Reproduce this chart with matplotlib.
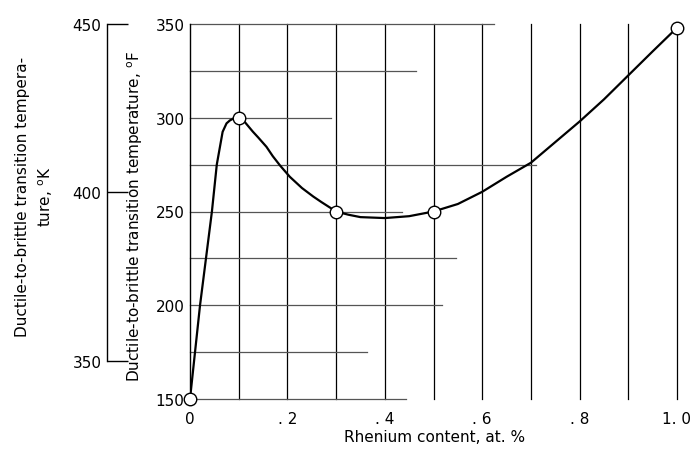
"""
Ductile-to-brittle transition temperature vs rhenium content.
Writes out.png (690x456).
"""

import matplotlib
matplotlib.use("Agg")
import matplotlib.pyplot as plt

# measured points (at. % Re, deg F)
re_pts = [0.0, 0.1, 0.3, 0.5, 1.0]
temp_pts = [150, 300, 250, 250, 348]

# faired curve
curve_x = [0.0, 0.0206, 0.045, 0.055, 0.067, 0.075, 0.082, 0.09, 0.1,
           0.11, 0.129, 0.14, 0.157, 0.17, 0.185, 0.205, 0.23, 0.253, 0.27,
           0.3, 0.325, 0.35, 0.40, 0.45, 0.5,
           0.55, 0.6, 0.65, 0.7, 0.75, 0.8, 0.85, 0.9, 0.95, 1.0]
curve_f = [150, 200, 250, 275, 292.5, 297, 298.6, 299.7, 300,
           298.5, 292.6, 289.5, 284.5, 279.5, 274.5, 268.5, 262.5, 258, 255,
           250, 248.3, 247, 246.5, 247.5, 250,
           254, 260.5, 268.5, 276, 287, 298, 309.8, 322.6, 335.4, 348]

f_ticks = [150, 200, 250, 300, 350]
k_ticks = [350, 400, 450]
x_ticks = [0, 0.2, 0.4, 0.6, 0.8, 1.0]
x_labels = ["0", ". 2", ". 4", ". 6", ". 8", "1. 0"]
x_grid = [0.1, 0.2, 0.3, 0.4, 0.5, 0.6, 0.7, 0.8, 0.9, 1.0]
# horizontal rules on the old graph paper stop at uneven places
h_grid = [150, 175, 200, 225, 250, 275, 300, 325, 350]
h_grid_end = [0.444, 0.364, 0.518, 0.547, 0.436, 0.71, 0.29, 0.465, 0.625]


def f_to_k(f):
    return (f - 32.0) * 5.0 / 9.0 + 273.15


def main():
    plt.rcParams["font.family"] = "DejaVu Sans"
    fig = plt.figure(figsize=(6.9, 4.56), dpi=100)
    W, H = 690.0, 456.0
    left, right, bottom, top = 190 / W, 680 / W, 1 - 400 / H, 1 - 25 / H
    rect = [left, bottom, right - left, top - bottom]

    ax = fig.add_axes(rect)
    ax.set_xlim(0, 1.0 * 490 / 487)
    ax.set_ylim(150, 350)
    for s in ["top", "right", "bottom"]:
        ax.spines[s].set_visible(False)
    ax.spines["left"].set_linewidth(1.0)

    for xv in x_grid:
        ax.plot([xv, xv], [150, 350], color="black", lw=0.9, zorder=1,
                clip_on=False)
    for yv, xe in zip(h_grid, h_grid_end):
        ax.plot([0, xe], [yv, yv], color="#555555", lw=0.9, zorder=1,
                clip_on=False)

    ax.plot(curve_x, curve_f, color="black", lw=1.6, zorder=3,
            solid_joinstyle="round")
    ax.plot(re_pts, temp_pts, linestyle="none", marker="o", ms=9,
            mfc="white", mec="black", mew=1.0, zorder=4, clip_on=False)

    ax.set_yticks(f_ticks)
    ax.set_xticks(x_ticks)
    ax.set_xticklabels(x_labels)
    ax.tick_params(axis="both", length=0, labelsize=11)
    ax.tick_params(axis="y", pad=4)
    ax.tick_params(axis="x", pad=9)
    ax.set_xlabel("Rhenium content, at. %", fontsize=11, labelpad=2)
    ax.set_ylabel("Ductile-to-brittle transition temperature, $^{\\rm o}$F",
                  fontsize=11)
    ax.yaxis.set_label_coords(-0.092, 0.49)

    # Kelvin scale on its own spine further left
    ax2 = fig.add_axes(rect)
    ax2.patch.set_visible(False)
    for s in ["top", "right", "bottom"]:
        ax2.spines[s].set_visible(False)
    ax2.set_xlim(0, 1)
    ax2.set_xticks([])
    ax2.set_ylim(f_to_k(150), f_to_k(350))
    ax2.spines["left"].set_position(("outward", 83 * 0.72))
    ax2.spines["left"].set_bounds(350, 450)
    ax2.spines["left"].set_linewidth(1.0)
    ax2.set_yticks(k_ticks)
    ax2.tick_params(axis="y", direction="in", length=15, width=1.0,
                    labelsize=11, pad=4)

    fig.text(35 / W, 1 - 197 / H,
             "Ductile-to-brittle transition tempera-\nture, $^{\\rm o}$K",
             rotation=90, ha="center", va="center", fontsize=11,
             multialignment="center", linespacing=1.5)

    fig.savefig("out.png", dpi=100)


if __name__ == "__main__":
    main()
